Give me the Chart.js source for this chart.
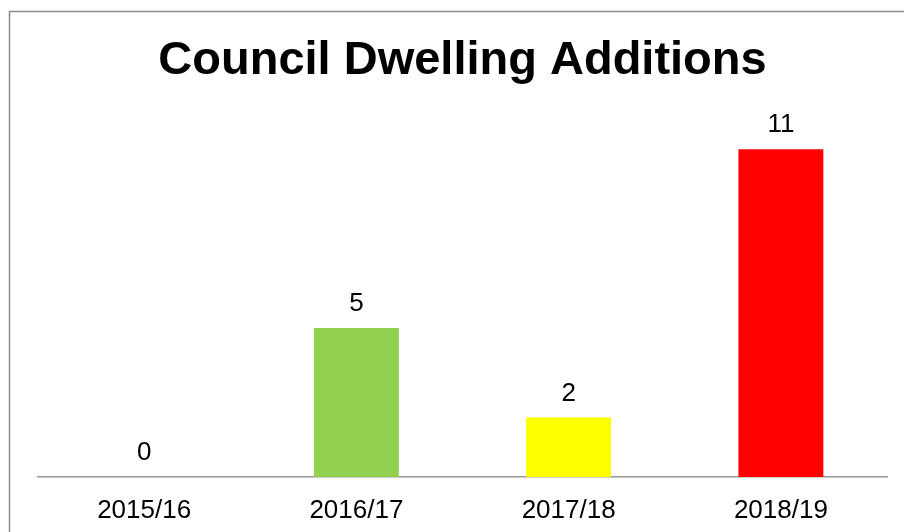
<!DOCTYPE html>
<html>
<head>
<meta charset="utf-8">
<script src="https://cdn.jsdelivr.net/npm/chart.js@4/dist/chart.umd.min.js"></script>
<style>
  html, body { margin: 0; padding: 0; background: #fff; }
  #wrap { width: 904px; height: 532px; position: relative; }
</style>
</head>
<body>
<div id="wrap"><canvas id="dwellChart" width="904" height="532"></canvas></div>
<script>
// data
const years = ['2015/16', '2016/17', '2017/18', '2018/19'];
const additions = [0, 5, 2, 11];
const barColors = ['#92D050', '#92D050', '#FFFF00', '#FF0000'];
const titleText = 'Council Dwelling Additions';

// frame round the whole chart (cut off at right and bottom like the original)
const framePlugin = {
    id: 'frame',
    beforeDraw: (chart) => {
        const ctx = chart.ctx;
        ctx.save();
        ctx.fillStyle = '#fff';
        ctx.fillRect(0, 0, chart.width, chart.height);
        ctx.strokeStyle = '#8c8c8c';
        ctx.lineWidth = 1.5;
        ctx.strokeRect(9.5, 11.5, chart.width + 20, chart.height + 20);
        ctx.restore();
    }
};

// value labels above bars
const valueLabels = {
    id: 'valueLabels',
    afterDatasetsDraw: (chart) => {
        const ctx = chart.ctx;
        const meta = chart.getDatasetMeta(0);
        ctx.save();
        ctx.font = '26px "Liberation Sans", Arial, sans-serif';
        ctx.fillStyle = '#000';
        ctx.textAlign = 'center';
        ctx.textBaseline = 'middle';
        meta.data.forEach((bar, i) => {
            ctx.fillText(String(additions[i]), bar.x, bar.y - 24);
        });
        ctx.restore();
    }
};

const ctx = document.getElementById('dwellChart').getContext('2d');
new Chart(ctx, {
    type: 'bar',
    data: {
        labels: years,
        datasets: [{
            data: additions,
            backgroundColor: barColors,
            borderWidth: 0,
            barPercentage: 0.4,
            categoryPercentage: 1.0
        }]
    },
    options: {
        responsive: false,
        animation: false,
        layout: { padding: { left: 38, right: 17, top: 20, bottom: 0 } },
        plugins: {
            legend: { display: false },
            tooltip: { enabled: false },
            title: {
                display: true,
                text: titleText,
                color: '#000',
                font: { family: '"Liberation Sans", Arial, sans-serif', size: 47, weight: 'bold' },
                padding: { top: 13, bottom: 30 }
            }
        },
        scales: {
            x: {
                grid: { display: false, drawTicks: false },
                border: { display: true, color: '#9a9a9a', width: 1.5 },
                ticks: {
                    color: '#000',
                    padding: 18,
                    font: { family: '"Liberation Sans", Arial, sans-serif', size: 26 }
                },
                afterFit: (scale) => { scale.height = 55; }
            },
            y: {
                display: false,
                min: 0,
                max: 12
            }
        }
    },
    plugins: [framePlugin, valueLabels]
});
</script>
</body>
</html>
